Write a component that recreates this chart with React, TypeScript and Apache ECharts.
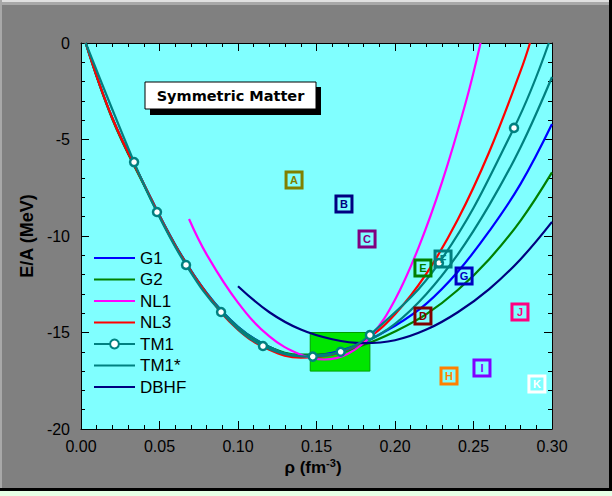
import { useEffect, useRef } from "react";
import * as echarts from "echarts";

// Binding energy per nucleon E/A (MeV) versus density rho (fm^-3), [rho, E/A]
const G1: number[][] = [
  [0.003, 0], [0.02, -3.9], [0.04, -7.3], [0.06, -10.45], [0.08, -12.95], [0.1, -14.7],
  [0.12, -15.75], [0.14, -16.2], [0.16, -16.05], [0.18, -15.5], [0.2, -14.65], [0.22, -13.5],
  [0.24, -11.85], [0.26, -9.75], [0.28, -7.3], [0.3, -4.2],
];
const G2: number[][] = [
  [0.003, 0], [0.02, -3.95], [0.04, -7.35], [0.06, -10.5], [0.08, -13.0], [0.1, -14.75],
  [0.12, -15.75], [0.14, -16.15], [0.16, -16.1], [0.18, -15.65], [0.2, -14.95], [0.22, -14.05],
  [0.24, -12.8], [0.26, -11.2], [0.28, -9.2], [0.3, -6.7],
];
const NL1: number[][] = [
  [0.0688, -9.12], [0.08, -10.95], [0.1, -13.45], [0.12, -15.2], [0.14, -16.15], [0.155, -16.4],
  [0.17, -16.1], [0.185, -15.15], [0.2, -13.3], [0.215, -10.6], [0.23, -7.2], [0.245, -3.1],
  [0.2545, 0],
];
const NL3: number[][] = [
  [0.003, 0], [0.02, -3.9], [0.04, -7.3], [0.06, -10.5], [0.08, -13.0], [0.1, -14.85],
  [0.12, -15.9], [0.14, -16.3], [0.16, -16.15], [0.18, -15.45], [0.2, -14.05], [0.22, -11.95],
  [0.24, -9.15], [0.26, -5.65], [0.28, -1.45], [0.286, 0],
];
const TM1: number[][] = [
  [0.003, 0], [0.0338, -6.17], [0.0484, -8.76], [0.0669, -11.5], [0.0892, -13.94], [0.1159, -15.7],
  [0.1476, -16.25], [0.1654, -16.0], [0.184, -15.13], [0.228, -11.4], [0.2758, -4.4], [0.298, 0],
];
const TM1S: number[][] = [
  [0.003, 0], [0.02, -3.9], [0.04, -7.3], [0.06, -10.45], [0.08, -12.95], [0.1, -14.7],
  [0.12, -15.75], [0.14, -16.2], [0.16, -16.1], [0.18, -15.55], [0.2, -14.55], [0.22, -13.0],
  [0.24, -10.95], [0.26, -8.4], [0.28, -5.4], [0.3, -1.76],
];
const DBHF: number[][] = [
  [0.1, -12.6], [0.12, -13.95], [0.14, -14.85], [0.16, -15.35], [0.18, -15.55], [0.2, -15.4],
  [0.22, -14.85], [0.24, -13.95], [0.26, -12.75], [0.28, -11.2], [0.3, -9.27],
];

// Empirical saturation region: rho range and E/A range
const SAT_RHO = [0.146, 0.184];
const SAT_E = [-15, -17];

// Labelled reference points
const BOX_LETTERS = ["A", "B", "C", "D", "E", "F", "G", "H", "I", "J", "K"];
const BOX_RHO = [0.1357, 0.1675, 0.1822, 0.2178, 0.2178, 0.2306, 0.244, 0.2344, 0.2554, 0.2796, 0.2904];
const BOX_E = [-7.1, -8.34, -10.16, -14.15, -11.66, -11.19, -12.07, -17.25, -16.84, -13.94, -17.67];
const BOX_COLORS = [
  "#808000", "#000080", "#800080", "#800000", "#008000", "#008080",
  "#0000c0", "#ff8000", "#8000ff", "#ff0080", "#ffffff",
];

const X_MIN = 0, X_MAX = 0.3, X_STEP = 0.05;
const Y_MIN = -20, Y_MAX = 0, Y_STEP = 5;

const FONT = "'Liberation Sans', Arial, sans-serif";
const LINE_ICON = "path://M0,0H41V2H0Z";

const lineSeries = (name: string, data: number[][], color: string) => ({
  name,
  type: "line",
  data,
  smooth: 0.4,
  symbol: "none",
  showSymbol: false,
  lineStyle: { color, width: 2.2 },
  itemStyle: { color },
  z: 3,
});

export default function App() {
  const ref = useRef<HTMLDivElement>(null);

  useEffect(() => {
    if (!ref.current) return;
    const chart = echarts.init(ref.current, undefined, { renderer: "svg" });

    const axisCommon = {
      axisLine: { show: true, onZero: false, lineStyle: { color: "#000", width: 1 } },
      axisTick: { show: true, inside: true, length: 8, lineStyle: { color: "#000" } },
      minorTick: { show: true, splitNumber: 5, length: 4, lineStyle: { color: "#000" } },
      splitLine: { show: false },
      minorSplitLine: { show: false },
    };

    const tm1Data = TM1.map((p, i) =>
      i === 0 || i === TM1.length - 1 ? { value: p, symbol: "none" } : { value: p }
    );

    chart.setOption({
      animation: false,
      backgroundColor: "#808080",
      grid: {
        left: 81, right: 60, top: 43, bottom: 67,
        show: true, backgroundColor: "#80ffff", borderWidth: 0,
      },
      xAxis: [
        {
          type: "value", min: X_MIN, max: X_MAX, interval: X_STEP, position: "bottom",
          ...axisCommon,
          axisLabel: {
            color: "#000", fontFamily: FONT, fontSize: 16, margin: 9,
            formatter: (v: number) => v.toFixed(2),
          },
        },
        {
          type: "value", min: X_MIN, max: X_MAX, interval: X_STEP, position: "top",
          ...axisCommon, axisLabel: { show: false },
        },
      ],
      yAxis: [
        {
          type: "value", min: Y_MIN, max: Y_MAX, interval: Y_STEP, position: "left",
          ...axisCommon,
          axisLabel: { color: "#000", fontFamily: FONT, fontSize: 16, margin: 11 },
        },
        {
          type: "value", min: Y_MIN, max: Y_MAX, interval: Y_STEP, position: "right",
          ...axisCommon, axisLabel: { show: false },
        },
      ],
      legend: {
        data: [
          { name: "G1", icon: LINE_ICON },
          { name: "G2", icon: LINE_ICON },
          { name: "NL1", icon: LINE_ICON },
          { name: "NL3", icon: LINE_ICON },
          { name: "TM1" },
          { name: "TM1*", icon: LINE_ICON },
          { name: "DBHF", icon: LINE_ICON },
        ],
        orient: "vertical",
        left: 93, top: 249, padding: 0,
        itemWidth: 41, itemHeight: 11, itemGap: 3.5,
        symbolKeepAspect: true,
        textStyle: { fontFamily: FONT, fontSize: 17, lineHeight: 18, color: "#000" },
        selectedMode: false,
      },
      graphic: [
        // window frame edges
        { type: "rect", shape: { x: 0, y: 0, width: 609, height: 2 }, style: { fill: "#e0e0e0" }, silent: true },
        { type: "rect", shape: { x: 0, y: 2, width: 609, height: 3 }, style: { fill: "#a8a8a8" }, silent: true },
        { type: "rect", shape: { x: 0, y: 0, width: 2, height: 488 }, style: { fill: "#a8a8a8" }, silent: true },
        { type: "rect", shape: { x: 609, y: 0, width: 3, height: 491 }, style: { fill: "#000" }, silent: true },
        { type: "rect", shape: { x: 0, y: 488, width: 612, height: 3 }, style: { fill: "#000" }, silent: true },
        { type: "rect", shape: { x: 0, y: 491, width: 612, height: 5 }, style: { fill: "#e6ffe6" }, silent: true },
        // title box with drop shadow
        { type: "rect", shape: { x: 150, y: 87, width: 171, height: 28 }, style: { fill: "#000" }, z: 100, silent: true },
        {
          type: "rect", shape: { x: 145, y: 82, width: 171, height: 27 },
          style: { fill: "#fff", stroke: "#000", lineWidth: 1 }, z: 101, silent: true,
        },
        {
          type: "text", x: 230.5, y: 96, z: 102, silent: true,
          style: {
            text: "Symmetric Matter", fill: "#000", align: "center", verticalAlign: "middle",
            font: "bold 14.5px 'DejaVu Sans', Verdana, sans-serif",
          },
        },
        // axis titles
        {
          type: "text", x: 313, y: 467, silent: true,
          style: {
            text: "{a|ρ (fm}{s|-3}{a|)}", align: "center", verticalAlign: "middle",
            rich: {
              a: { fontSize: 17, fontWeight: "bold", fontFamily: FONT, fill: "#000", lineHeight: 20 },
              s: { fontSize: 11, fontWeight: "bold", fontFamily: FONT, fill: "#000", verticalAlign: "top" },
            },
          },
        },
        {
          type: "text", x: 27, y: 236, rotation: Math.PI / 2, silent: true,
          style: {
            text: "E/A (MeV)", fill: "#000", align: "center", verticalAlign: "middle",
            font: `bold 18px ${FONT}`,
          },
        },
      ],
      series: [
        {
          name: "saturation", type: "line", data: [], z: 1, silent: true,
          markArea: {
            silent: true,
            itemStyle: { color: "#00e600", borderColor: "#00a000", borderWidth: 1, opacity: 1 },
            data: [[{ coord: [SAT_RHO[0], SAT_E[0]] }, { coord: [SAT_RHO[1], SAT_E[1]] }]],
          },
        },
        lineSeries("G1", G1, "#0000ff"),
        lineSeries("G2", G2, "#008000"),
        lineSeries("TM1*", TM1S, "#008080"),
        {
          name: "TM1", type: "line", data: tm1Data, smooth: 0.4,
          symbol: "circle", symbolSize: 8, showSymbol: true,
          lineStyle: { color: "#008080", width: 2.2 },
          itemStyle: { color: "#ffffff", borderColor: "#008080", borderWidth: 2.5 },
          z: 4,
        },
        lineSeries("NL3", NL3, "#ff0000"),
        lineSeries("NL1", NL1, "#ff00ff"),
        lineSeries("DBHF", DBHF, "#000080"),
        {
          name: "points", type: "scatter", symbol: "rect", symbolSize: 16, z: 6,
          itemStyle: { opacity: 1 },
          data: BOX_LETTERS.map((l, i) => ({
            name: l,
            value: [BOX_RHO[i], BOX_E[i]],
            itemStyle: {
              color: "rgba(0,0,0,0)", borderColor: BOX_COLORS[i], borderWidth: 3, opacity: 1,
            },
            label: { color: BOX_COLORS[i] },
          })),
          label: {
            show: true, position: "inside", formatter: "{b}",
            fontFamily: FONT, fontSize: 11, fontWeight: "bold",
            textBorderWidth: 0, opacity: 1,
          },
        },
      ],
    });

    return () => chart.dispose();
  }, []);

  return (
    <div
      ref={ref}
      style={{ position: "fixed", left: 0, top: 0, width: 612, height: 496 }}
    />
  );
}
